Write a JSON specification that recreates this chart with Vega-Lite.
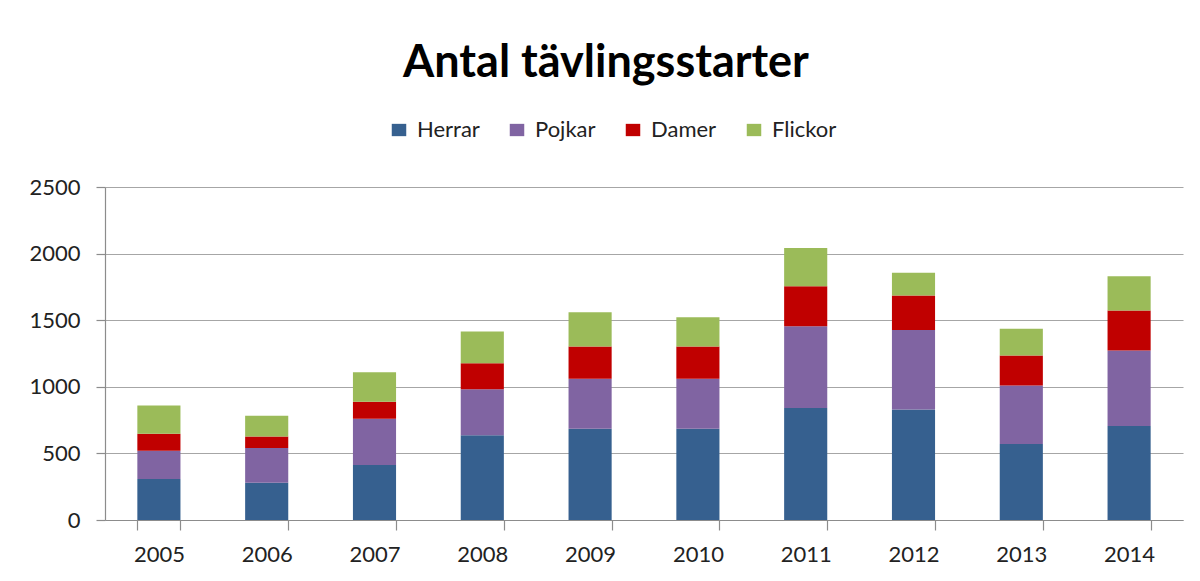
{
  "$schema": "https://vega.github.io/schema/vega-lite/v6.json",
  "width": 1078,
  "height": 333,
  "autosize": {"type": "none"},
  "padding": {"left": 105, "top": 187, "right": 17, "bottom": 61},
  "background": "white",
  "title": {
    "text": "Antal tävlingsstarter",
    "font": "Lato",
    "fontSize": 45,
    "fontWeight": "bold",
    "color": "#000000",
    "anchor": "middle",
    "dx": -38,
    "offset": 33
  },
  "data": {
    "values": [
      {"ar": "2005", "kategori": "Herrar", "n": 1, "antal": 307},
      {"ar": "2005", "kategori": "Pojkar", "n": 2, "antal": 213},
      {"ar": "2005", "kategori": "Damer", "n": 3, "antal": 127},
      {"ar": "2005", "kategori": "Flickor", "n": 4, "antal": 213},
      {"ar": "2006", "kategori": "Herrar", "n": 1, "antal": 280},
      {"ar": "2006", "kategori": "Pojkar", "n": 2, "antal": 260},
      {"ar": "2006", "kategori": "Damer", "n": 3, "antal": 87},
      {"ar": "2006", "kategori": "Flickor", "n": 4, "antal": 155},
      {"ar": "2007", "kategori": "Herrar", "n": 1, "antal": 412},
      {"ar": "2007", "kategori": "Pojkar", "n": 2, "antal": 348},
      {"ar": "2007", "kategori": "Damer", "n": 3, "antal": 127},
      {"ar": "2007", "kategori": "Flickor", "n": 4, "antal": 223},
      {"ar": "2008", "kategori": "Herrar", "n": 1, "antal": 637},
      {"ar": "2008", "kategori": "Pojkar", "n": 2, "antal": 345},
      {"ar": "2008", "kategori": "Damer", "n": 3, "antal": 195},
      {"ar": "2008", "kategori": "Flickor", "n": 4, "antal": 238},
      {"ar": "2009", "kategori": "Herrar", "n": 1, "antal": 685},
      {"ar": "2009", "kategori": "Pojkar", "n": 2, "antal": 375},
      {"ar": "2009", "kategori": "Damer", "n": 3, "antal": 242},
      {"ar": "2009", "kategori": "Flickor", "n": 4, "antal": 258},
      {"ar": "2010", "kategori": "Herrar", "n": 1, "antal": 685},
      {"ar": "2010", "kategori": "Pojkar", "n": 2, "antal": 375},
      {"ar": "2010", "kategori": "Damer", "n": 3, "antal": 242},
      {"ar": "2010", "kategori": "Flickor", "n": 4, "antal": 220},
      {"ar": "2011", "kategori": "Herrar", "n": 1, "antal": 840},
      {"ar": "2011", "kategori": "Pojkar", "n": 2, "antal": 615},
      {"ar": "2011", "kategori": "Damer", "n": 3, "antal": 300},
      {"ar": "2011", "kategori": "Flickor", "n": 4, "antal": 287},
      {"ar": "2012", "kategori": "Herrar", "n": 1, "antal": 830},
      {"ar": "2012", "kategori": "Pojkar", "n": 2, "antal": 597},
      {"ar": "2012", "kategori": "Damer", "n": 3, "antal": 258},
      {"ar": "2012", "kategori": "Flickor", "n": 4, "antal": 172},
      {"ar": "2013", "kategori": "Herrar", "n": 1, "antal": 570},
      {"ar": "2013", "kategori": "Pojkar", "n": 2, "antal": 440},
      {"ar": "2013", "kategori": "Damer", "n": 3, "antal": 225},
      {"ar": "2013", "kategori": "Flickor", "n": 4, "antal": 200},
      {"ar": "2014", "kategori": "Herrar", "n": 1, "antal": 705},
      {"ar": "2014", "kategori": "Pojkar", "n": 2, "antal": 567},
      {"ar": "2014", "kategori": "Damer", "n": 3, "antal": 300},
      {"ar": "2014", "kategori": "Flickor", "n": 4, "antal": 258}
    ]
  },
  "mark": {"type": "bar"},
  "encoding": {
    "x": {
      "field": "ar",
      "type": "nominal",
      "scale": {"paddingInner": 0.6, "paddingOuter": 0.3},
      "axis": {
        "title": null,
        "labelAngle": 0,
        "labelFont": "Lato",
        "labelFontSize": 22,
        "labelColor": "#222222",
        "labelPadding": 14,
        "tickBand": "extent",
        "tickSize": 10,
        "tickColor": "#8c8c8c",
        "domainColor": "#8c8c8c",
        "grid": false
      }
    },
    "y": {
      "field": "antal",
      "type": "quantitative",
      "stack": "zero",
      "scale": {"domain": [0, 2500], "nice": false},
      "axis": {
        "title": null,
        "values": [0, 500, 1000, 1500, 2000, 2500],
        "format": "d",
        "labelFont": "Lato",
        "labelFontSize": 22,
        "labelColor": "#222222",
        "labelPadding": 16,
        "tickSize": 9,
        "tickColor": "#8c8c8c",
        "domainColor": "#8c8c8c",
        "gridColor": "#a6a6a6",
        "gridWidth": 1.2
      }
    },
    "color": {
      "field": "kategori",
      "type": "nominal",
      "scale": {
        "domain": ["Herrar", "Pojkar", "Damer", "Flickor"],
        "range": ["#36608f", "#8064a2", "#c00000", "#9bbb59"]
      },
      "legend": {
        "title": null,
        "orient": "none",
        "direction": "horizontal",
        "legendX": 283,
        "legendY": -68,
        "symbolType": "M-1,-0.85L1,-0.85L1,0.85L-1,0.85Z",
        "symbolSize": 210,
        "symbolStrokeWidth": 0,
        "labelFont": "Lato",
        "labelFontSize": 22,
        "labelColor": "#222222",
        "labelOffset": 7,
        "columnPadding": 26,
        "gridAlign": "none"
      }
    },
    "order": {"field": "n", "type": "quantitative", "sort": "ascending"}
  },
  "config": {
    "view": {"stroke": null},
    "axis": {"domainWidth": 1.2, "tickWidth": 1.2}
  }
}
